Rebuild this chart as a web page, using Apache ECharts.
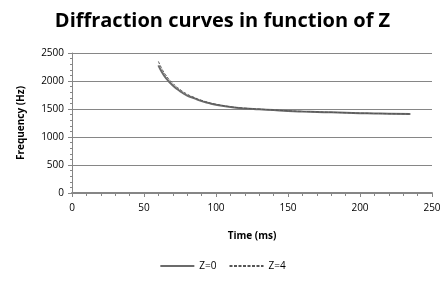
<!DOCTYPE html>
<html>
<head>
<meta charset="utf-8">
<script src="https://cdn.jsdelivr.net/npm/echarts@6/dist/echarts.min.js"></script>
<style>
  html, body { margin: 0; padding: 0; background: #fff; }
  #chart { width: 445px; height: 282px; }
</style>
</head>
<body>
<div id="chart"></div>
<script>
// time (ms) values
const times = [60, 62, 65, 70, 75, 80, 85, 90, 95, 100, 110, 120, 130, 140, 150, 160, 170, 180, 190, 200, 210, 220, 235]
// frequency (Hz) for Z=0
const z0 = [2280, 2180, 2060, 1920, 1820, 1740, 1690, 1640, 1605, 1575, 1535, 1510, 1495, 1480, 1465, 1455, 1448, 1440, 1432, 1425, 1420, 1415, 1412]
// frequency (Hz) for Z=4
const z4 = [2350, 2240, 2110, 1960, 1850, 1765, 1705, 1655, 1615, 1585, 1540, 1515, 1498, 1482, 1468, 1457, 1449, 1441, 1433, 1426, 1420, 1416, 1412]

const pairs = (xs, ys) => xs.map((x, i) => [x, ys[i]])

let mychart = echarts.init(document.getElementById('chart'))
const font = 'Open Sans, Liberation Sans, sans-serif'

mychart.setOption({
    animation: false,
    title: {
        text: 'Diffraction curves in function of Z',
        left: 'center',
        top: 6,
        textStyle: { fontFamily: font, fontSize: 20, fontWeight: 'bold', color: '#000' }
    },
    grid: { left: 72, right: 13, top: 53, bottom: 89 },
    xAxis: {
        type: 'value',
        min: 0, max: 250, interval: 50,
        name: 'Time (ms)',
        nameLocation: 'middle',
        nameGap: 38,
        nameTextStyle: { fontFamily: font, fontSize: 10, fontWeight: 'bold', color: '#000' },
        axisLine: { show: true, onZero: false, lineStyle: { color: '#868686', width: 2 } },
        axisTick: { show: true, inside: false, length: 4, lineStyle: { color: '#868686', width: 1 } },
        minorTick: { show: true, splitNumber: 5, length: 3, lineStyle: { color: '#868686' } },
        axisLabel: { fontFamily: font, fontSize: 10, color: '#000', margin: 10 },
        splitLine: { show: false }
    },
    yAxis: {
        type: 'value',
        min: 0, max: 2500, interval: 500,
        name: 'Frequency (Hz)',
        nameLocation: 'middle',
        nameGap: 46,
        nameTextStyle: { fontFamily: font, fontSize: 10, fontWeight: 'bold', color: '#000' },
        axisLine: { show: true, lineStyle: { color: '#868686', width: 1 } },
        axisTick: { show: true, length: 4, lineStyle: { color: '#868686' } },
        minorTick: { show: true, splitNumber: 5, length: 2, lineStyle: { color: '#868686' } },
        axisLabel: { fontFamily: font, fontSize: 10, color: '#000', margin: 8, formatter: v => String(v) },
        splitLine: { show: true, lineStyle: { color: '#868686', width: 1 } }
    },
    legend: {
        bottom: 6,
        left: 'center',
        itemWidth: 34,
        itemHeight: 10,
        itemGap: 12,
        itemStyle: { opacity: 0 },
        textStyle: { fontFamily: font, fontSize: 10, color: '#000' },
        data: ['Z=0', 'Z=4']
    },
    series: [
        {
            name: 'Z=0',
            type: 'line',
            smooth: true,
            symbol: 'none',
            data: pairs(times, z0),
            lineStyle: { color: '#6b6b6b', width: 2 },
            itemStyle: { color: '#6b6b6b' }
        },
        {
            name: 'Z=4',
            type: 'line',
            smooth: true,
            symbol: 'none',
            data: pairs(times, z4),
            lineStyle: { color: '#555', width: 1, type: [3, 1.5] },
            itemStyle: { color: '#555' }
        }
    ]
})
</script>
</body>
</html>
